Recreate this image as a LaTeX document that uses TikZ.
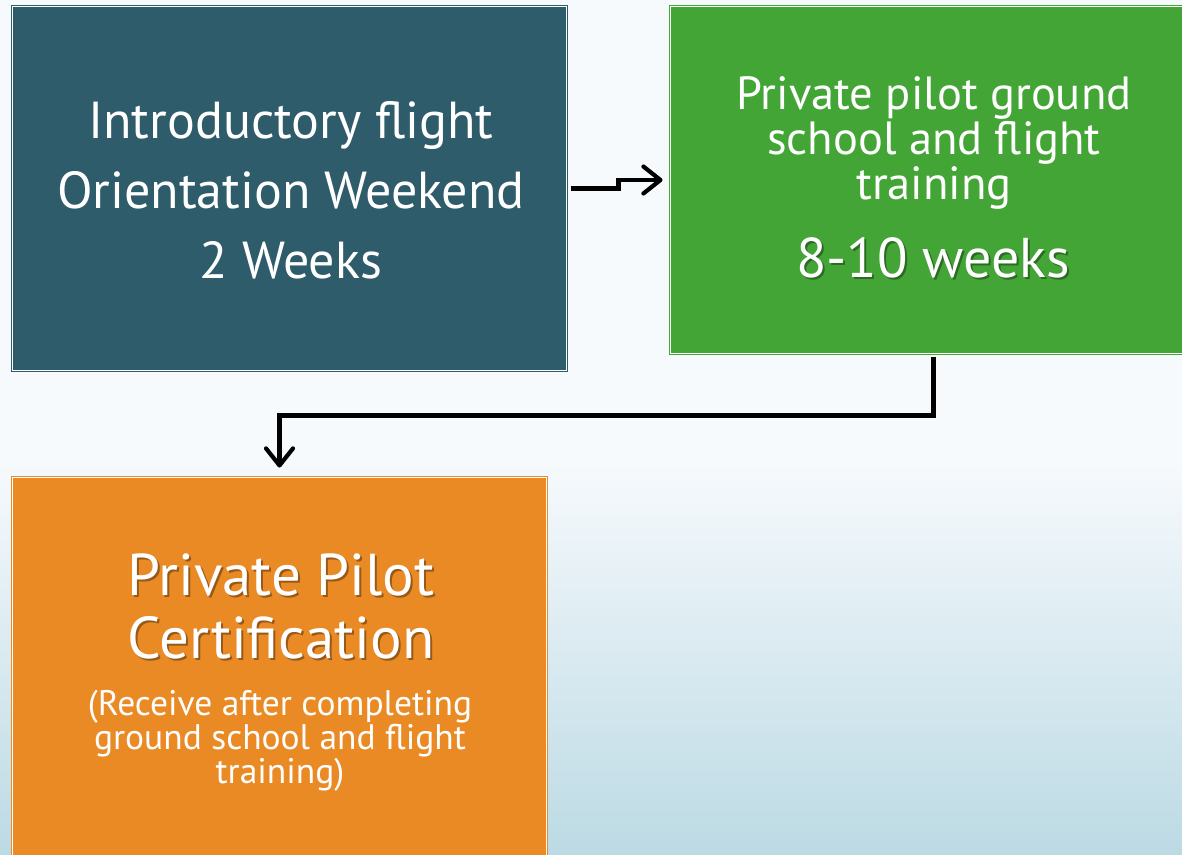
\documentclass[tikz,border=0pt]{standalone}
\usepackage{fontspec}
\setmainfont{PT Sans}
\usetikzlibrary{arrows.meta}
\definecolor{tealbox}{HTML}{2F5C6B}
\definecolor{greenbox}{HTML}{43A535}
\definecolor{orangebox}{HTML}{EA8A25}
\definecolor{bgtop}{HTML}{F7FAFD}
\definecolor{bgmid}{HTML}{EBF4F7}
\definecolor{bgbot}{HTML}{BCDAE4}
\begin{document}
\begin{tikzpicture}[x=1pt,y=-1pt,
  box/.style={draw=#1, fill=#1, double=white, double distance=1.6pt, line width=0.9pt,
    anchor=north west, inner sep=0pt, outer sep=0pt},
  txt/.style={text=white, align=center, inner sep=0pt},
  shadowtxt/.style={text=black, opacity=0.35, align=center, inner sep=0pt},
  arr/.style={draw=black, line width=4.2pt, line join=miter,
    -{Straight Barb[length=17pt, width=27pt, line width=4.2pt, round]}}
]
\useasboundingbox (0,0) rectangle (1182,854);
\clip (0,0) rectangle (1182,854);
\fill[bgtop] (0,0) rectangle (1182,460);
\shade[top color=bgtop, middle color=bgmid, bottom color=bgbot] (0,459) rectangle (1182,854);

\node[box=tealbox, minimum width=554pt, minimum height=364pt] (b1) at (12.5,6.5) {};
\node[box=greenbox, minimum width=526pt, minimum height=347pt] (b2) at (670.5,6.5) {};
\node[box=orangebox, minimum width=534pt, minimum height=420pt] (b3) at (12.5,477.5) {};

\node[txt, font={\fontsize{52}{70}\selectfont}] (t1) at (291,190)
  {Introductory flight\\Orientation Weekend\\2 Weeks};

\node[txt, font={\fontsize{46.5}{45}\selectfont}] (t2) at (934,143)
  {Private pilot ground\\school and flight\\training};
\node[shadowtxt, font={\fontsize{56}{60}\selectfont}] (t2s) at (935,260) {8-10 weeks};
\node[txt, font={\fontsize{56}{60}\selectfont}] (t2w) at (933,258) {8-10 weeks};

\node[shadowtxt, font={\fontsize{59}{63}\selectfont}] (t3s) at (283,608) {Private Pilot\\Certification};
\node[txt, font={\fontsize{59}{63}\selectfont}] (t3) at (281,606) {Private Pilot\\Certification};
\node[txt, font={\fontsize{35.5}{34}\selectfont}] (t3b) at (280,741)
  {(Receive after completing\\ground school and flight\\training)};

\draw[arr] ([xshift=4pt]b1.east) -- ++(48,0) |- ([xshift=-8pt]b2.west);
\draw[arr] ([yshift=-3pt]b2.south) -- ++(0,59) -| ([yshift=10pt]b3.north);
\end{tikzpicture}
\end{document}
